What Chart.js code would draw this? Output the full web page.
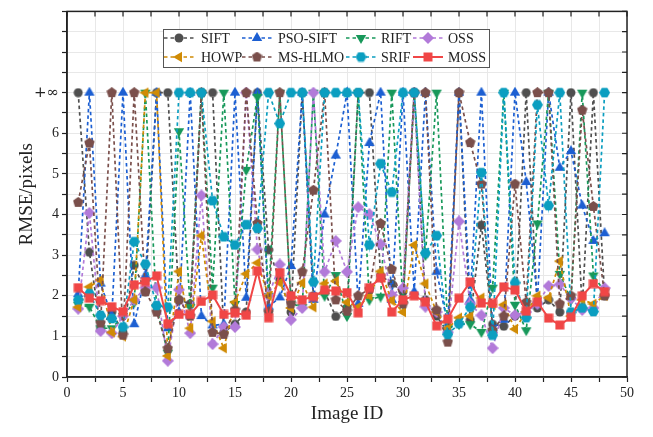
<!DOCTYPE html>
<html>
<head>
<meta charset="utf-8">
<script src="https://cdn.jsdelivr.net/npm/chart.js@4.4.1/dist/chart.umd.min.js"></script>
<style>
	html, body { margin: 0; padding: 0; background: #fff; }
	#wrap { width: 653px; height: 437px; }
</style>
</head>
<body>
<div id="wrap"><canvas id="chart" width="653" height="437"></canvas></div>
<script>
'use strict';

// Image IDs 1..48
const imageIds = [1,2,3,4,5,6,7,8,9,10,11,12,13,14,15,16,17,18,19,20,21,22,23,24,
	25,26,27,28,29,30,31,32,33,34,35,36,37,38,39,40,41,42,43,44,45,46,47,48];

// RMSE per method (7 = +inf, failed match)
const sift = [7, 3.07, 1.2, 1.6, 1.1, 2.75, 2.1, 7, 7, 1.9, 1.8, 7, 7, 1.1, 1.3, 1.6, 7, 3.13, 2.4, 1.6, 7, 2.0, 2.1, 1.49,
	1.7, 7, 7, 2.5, 2.3, 2.1, 7, 1.9, 1.5, 1.1, 7, 1.4, 3.74, 1.3, 1.25, 1.5, 7, 1.7, 1.9, 1.6, 7, 1.7, 7, 2.0];
const psoSift = [2.04, 7, 2.3, 1.5, 7, 1.3, 2.5, 7, 1.2, 1.6, 7, 1.5, 1.27, 1.3, 7, 1.95, 7, 1.73, 1.96, 2.73, 7, 1.9, 4.0, 5.45,
	7, 1.8, 5.76, 7, 1.9, 7, 2.1, 7, 2.59, 1.3, 7, 1.9, 7, 1.2, 1.41, 7, 4.8, 1.9, 7, 5.15, 5.56, 4.22, 3.35, 3.54];
const rift = [1.78, 1.73, 1.2, 1.2, 1.5, 1.84, 7, 1.7, 0.6, 6.05, 1.72, 7, 2.2, 7, 1.8, 5.1, 6.9, 2.0, 7, 1.81, 1.72, 7, 2.0, 2.51,
	1.5, 7, 1.9, 1.98, 7, 1.8, 7, 3.0, 7, 1.2, 1.3, 1.3, 1.11, 2.2, 7, 1.78, 1.15, 3.78, 7, 2.54, 1.9, 7, 2.5, 2.1];
const oss = [1.68, 4.04, 1.13, 1.08, 1.5, 1.9, 2.2, 2.2, 0.4, 2.15, 1.08, 4.47, 0.81, 1.23, 1.23, 7, 3.14, 2.0, 2.77, 1.41, 1.7, 7, 2.59, 3.35,
	2.59, 4.18, 4.01, 3.27, 2.02, 2.19, 7, 1.73, 1.6, 1.1, 3.83, 1.8, 1.52, 0.71, 1.7, 1.52, 1.6, 1.8, 2.24, 2.28, 1.93, 1.65, 1.7, 2.19];
const howp = [1.72, 2.22, 2.39, 1.1, 1.0, 1.9, 7, 7, 0.52, 2.6, 1.2, 3.48, 1.37, 0.71, 1.84, 2.54, 2.81, 2.0, 2.32, 1.7, 2.32, 1.72, 2.3, 2.36,
	1.84, 1.72, 2.0, 2.6, 1.88, 1.6, 3.25, 2.3, 1.6, 1.2, 1.46, 1.5, 1.95, 1.78, 1.78, 1.18, 1.6, 2.0, 1.95, 2.85, 1.5, 1.9, 1.8, 2.0];
const msHlmo = [4.3, 5.76, 1.33, 7, 1.03, 7, 2.1, 1.6, 0.7, 1.9, 1.5, 7, 1.1, 1.05, 1.65, 7, 3.78, 1.6, 7, 1.8, 2.59, 4.6, 7, 1.9,
	1.62, 2.0, 2.16, 3.78, 2.65, 1.8, 7, 7, 1.65, 0.86, 7, 5.77, 4.75, 1.15, 1.5, 4.75, 1.84, 7, 7, 1.8, 2.0, 6.57, 4.2, 2.0];
const srif = [1.9, 2.05, 1.52, 1.44, 1.23, 3.33, 2.78, 1.76, 1.72, 7, 7, 7, 4.34, 3.45, 3.25, 3.75, 3.66, 7, 6.24, 7, 7, 2.34, 7, 7,
	7, 7, 3.25, 5.25, 4.55, 7, 7, 3.05, 3.48, 1.05, 1.31, 1.72, 5.03, 1.03, 7, 2.32, 1.46, 6.7, 4.22, 7, 1.6, 1.7, 1.61, 7];
const moss = [2.2, 1.94, 1.88, 1.73, 1.61, 2.27, 2.35, 2.49, 1.31, 1.54, 1.54, 1.86, 2.02, 1.54, 1.58, 1.52, 2.61, 1.46, 2.57, 2.0, 1.9, 1.98, 2.14, 2.12,
	2.08, 1.58, 2.2, 2.44, 1.6, 1.9, 2.0, 1.85, 1.26, 1.43, 1.94, 2.34, 1.82, 1.81, 2.22, 2.14, 1.62, 1.85, 1.45, 1.28, 1.47, 2.0, 2.3, 2.1];

const SERIF = '"Liberation Serif", "Times New Roman", serif';
const INF_VALUE = 7;

// Marker images (Chart.js has no pentagon / hexagon / down / left triangles)
function makeMarker(shape, color, size) {
	const c = document.createElement('canvas');
	c.width = size; c.height = size;
	const g = c.getContext('2d');
	const r = size / 2;
	g.fillStyle = color;
	g.beginPath();
	function poly(n, start, rad) {
		for (let i = 0; i < n; i++) {
			const a = start + i * 2 * Math.PI / n;
			const px = r + rad * Math.cos(a), py = r + rad * Math.sin(a);
			if (i === 0) g.moveTo(px, py); else g.lineTo(px, py);
		}
		g.closePath();
	}
	if (shape === 'circle') g.arc(r, r, r - 0.5, 0, Math.PI * 2);
	else if (shape === 'square') g.rect(0.5, 0.5, size - 1, size - 1);
	else if (shape === 'up') poly(3, -Math.PI / 2, r);
	else if (shape === 'down') poly(3, Math.PI / 2, r);
	else if (shape === 'left') poly(3, Math.PI, r);
	else if (shape === 'diamond') poly(4, -Math.PI / 2, r);
	else if (shape === 'pentagon') poly(5, -Math.PI / 2, r);
	else if (shape === 'hexagon') poly(6, 0, r);
	g.fill();
	return c;
}

const series = [
	{ label: 'SIFT',     values: sift,    color: '#4f4f4f', shape: 'circle',   size: 10, order: 7 },
	{ label: 'PSO-SIFT', values: psoSift, color: '#1c5fd2', shape: 'up',       size: 12, order: 6 },
	{ label: 'RIFT',     values: rift,    color: '#17985a', shape: 'down',     size: 12, order: 5 },
	{ label: 'OSS',      values: oss,     color: '#b27ad9', shape: 'diamond',  size: 12, order: 4 },
	{ label: 'HOWP',     values: howp,    color: '#d08b05', shape: 'left',     size: 12, order: 3 },
	{ label: 'MS-HLMO',  values: msHlmo,  color: '#7a4f4b', shape: 'pentagon', size: 11, order: 2 },
	{ label: 'SRIF',     values: srif,    color: '#0b9ec0', shape: 'hexagon',  size: 11, order: 1 },
	{ label: 'MOSS',     values: moss,    color: '#f04646', shape: 'square',   size: 10, order: 0, solid: true }
];
series.forEach(function(s){ s.marker = makeMarker(s.shape, s.color, s.size); });

const datasets = series.map(function(s){
	return {
		label: s.label,
		data: imageIds.map(function(id, i){ return { x: id, y: s.values[i] }; }),
		borderColor: s.color,
		backgroundColor: s.color,
		borderWidth: s.solid ? 2 : 1.7,
		borderDash: s.solid ? [] : [3.5, 3],
		pointStyle: s.marker,
		pointRadius: 5,
		tension: 0,
		order: s.order
	};
});

// Legend columns: marker centre / text start, two rows
const legendCols = [[179, 201], [257, 278], [361, 381], [428, 448]];
const legendRows = [38, 57];

const framePlugin = {
	id: 'frameAndLegend',
	afterDraw(chart) {
		const ctx = chart.ctx, a = chart.chartArea;
		const xs = chart.scales.x, ys = chart.scales.y;
		ctx.save();
		ctx.strokeStyle = '#222';
		ctx.lineWidth = 1.5;
		ctx.strokeRect(a.left, a.top, a.right - a.left, a.bottom - a.top);
		// inner ticks on top / right
		ctx.lineWidth = 1.2;
		ctx.beginPath();
		ys.ticks.forEach(function(t){
			const y = ys.getPixelForValue(t.value);
			ctx.moveTo(a.right, y); ctx.lineTo(a.right - 5, y);
		});
		xs.ticks.forEach(function(t){
			const x = xs.getPixelForValue(t.value);
			ctx.moveTo(x, a.top); ctx.lineTo(x, a.top + 5);
		});
		ctx.stroke();

		// legend box
		ctx.fillStyle = '#fff';
		ctx.fillRect(163, 29, 326, 38);
		ctx.strokeStyle = '#555';
		ctx.lineWidth = 1;
		ctx.strokeRect(163.5, 29.5, 326, 38);
		ctx.font = '14px ' + SERIF;
		ctx.textBaseline = 'middle';
		ctx.textAlign = 'left';
		series.forEach(function(s, i){
			const col = legendCols[i % 4], y = legendRows[Math.floor(i / 4)];
			ctx.strokeStyle = s.color;
			ctx.lineWidth = s.solid ? 2 : 1.7;
			ctx.setLineDash(s.solid ? [] : [3.5, 3]);
			ctx.beginPath();
			ctx.moveTo(col[0] - 15, y); ctx.lineTo(col[0] + 15, y);
			ctx.stroke();
			ctx.setLineDash([]);
			ctx.drawImage(s.marker, col[0] - s.size / 2, y - s.size / 2);
			ctx.fillStyle = '#222';
			ctx.fillText(s.label, col[1], y + 1);
		});
		ctx.restore();
	}
};

new Chart(document.getElementById('chart').getContext('2d'), {
	type: 'line',
	data: { datasets: datasets },
	options: {
		responsive: false,
		animation: false,
		devicePixelRatio: 1,
		layout: { padding: { top: 8, right: 26, left: 0, bottom: 0 } },
		plugins: {
			legend: { display: false },
			tooltip: { enabled: false }
		},
		scales: {
			x: {
				type: 'linear', min: 0, max: 50,
				ticks: {
					stepSize: 2.5, autoSkip: false, maxRotation: 0, padding: 3,
					font: { family: SERIF, size: 14 }, color: '#222',
					callback: function(v){ return v % 5 === 0 ? String(v) : ''; }
				},
				grid: { color: '#e8e8e8', lineWidth: 1, tickLength: 5, tickColor: '#222', tickWidth: 1.2 },
				border: { color: '#222', width: 1.5 },
				title: { display: true, text: 'Image ID', color: '#222', font: { family: SERIF, size: 19 }, padding: { top: 0, bottom: 12 } },
				afterFit: function(s){ s.height = 60; }
			},
			y: {
				type: 'linear', min: 0, max: 9,
				ticks: {
					stepSize: 0.5, autoSkip: false, padding: 3,
					color: '#222',
					font: function(c){
						// the +inf label is drawn larger, as in the original figure
						const big = c.tick && c.tick.value === INF_VALUE;
						return { family: big ? '"DejaVu Serif", serif' : SERIF, size: big ? 15 : 14 };
					},
					callback: function(v){
						if (v === INF_VALUE) return '+\u221E';
						return (Number.isInteger(v) && v < INF_VALUE) ? String(v) : '';
					}
				},
				grid: { color: '#e8e8e8', lineWidth: 1, tickLength: 5, tickColor: '#222', tickWidth: 1.2 },
				border: { color: '#222', width: 1.5 },
				title: { display: true, text: 'RMSE/pixels', color: '#222', font: { family: SERIF, size: 19 }, padding: { top: 16, bottom: 0 } },
				afterFit: function(s){ s.width = 67; }
			}
		}
	},
	plugins: [framePlugin]
});
</script>
</body>
</html>
